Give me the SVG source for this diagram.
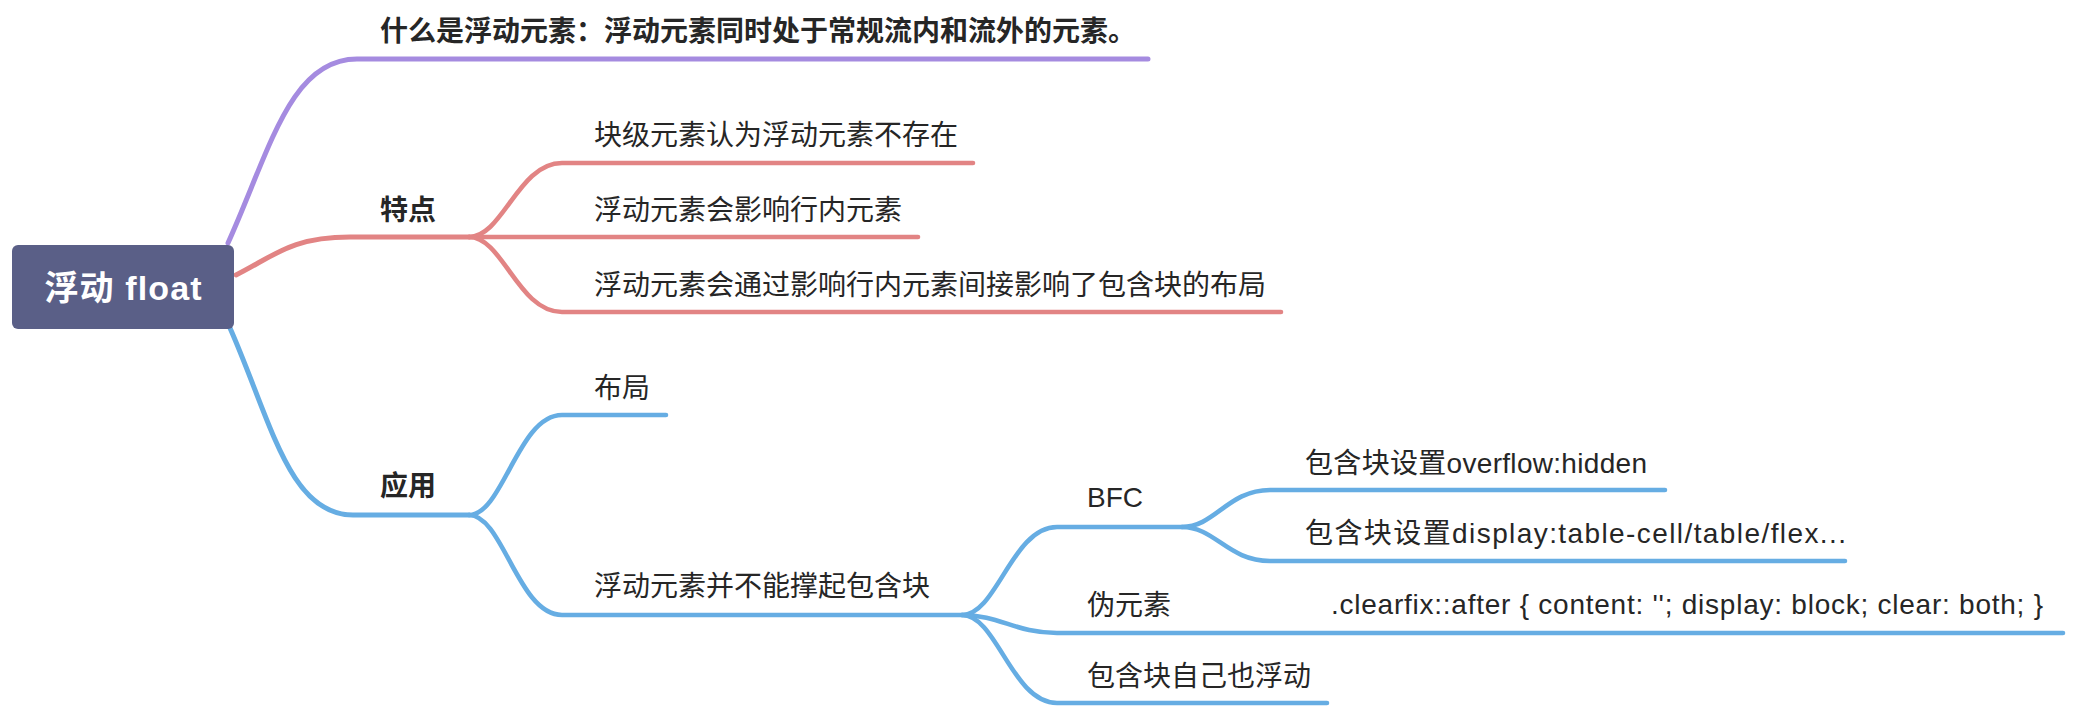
<svg xmlns="http://www.w3.org/2000/svg" width="2074" height="708" viewBox="0 0 2074 708">
<style>
.t{font-family:"Liberation Sans","Noto Sans CJK SC",sans-serif;font-size:28px;fill:#262626}
.b{font-weight:bold}
.root{font-family:"Liberation Sans","Noto Sans CJK SC",sans-serif;font-size:34px;font-weight:bold;fill:#ffffff}
.c{fill:none;stroke-linecap:round;stroke-linejoin:round}
.p{stroke:#a58be0;stroke-width:5}
.r{stroke:#e28484;stroke-width:5}
.r2{stroke:#e28484;stroke-width:4.6}
.u{stroke:#66ade3;stroke-width:5}
.u2{stroke:#66ade3;stroke-width:4.6}
</style>
<rect width="2074" height="708" fill="#ffffff"/>
<g id="connectors">
<path class="c p" d="M228,243 C270,150 290,59 357,59 L1148,59"/>
<path class="c r" d="M236,275 C274,256 291,237 350,237 L469,237"/>
<path class="c r2" d="M469,237 C503,237 518,163 562,163 L973,163"/>
<path class="c r2" d="M469,237 L918,237"/>
<path class="c r2" d="M469,237 C503,237 518,312 562,312 L1281,312"/>
<path class="c u" d="M230,328 C271,421 289,515 353,515 L469,515"/>
<path class="c u2" d="M469,515 C503,515 518,415 562,415 L666,415"/>
<path class="c u2" d="M469,515 C503,515 518,615 562,615 L962,615"/>
<path class="c u2" d="M962,615 C997,615 1012,527 1057,527 L1182,527"/>
<path class="c u2" d="M962,615 C1000,615 1015,633 1057,633 L2063,633"/>
<path class="c u2" d="M962,615 C997,615 1012,703 1057,703 L1327,703"/>
<path class="c u2" d="M1182,527 C1215,527 1228,490 1270,490 L1665,490"/>
<path class="c u2" d="M1182,527 C1215,527 1228,561 1270,561 L1845,561"/>
</g>
<g id="node-root">
<rect x="12" y="245" width="222" height="84" rx="6" fill="#5a5f87"/>
<text class="root" x="123" y="300" text-anchor="middle" textLength="157" lengthAdjust="spacing">浮动 float</text>
</g>
<g id="node-what"><text class="t b" x="380" y="41">什么是浮动元素：浮动元素同时处于常规流内和流外的元素。</text></g>
<g id="node-features"><text class="t b" x="380" y="220">特点</text></g>
<g id="node-f1"><text class="t" x="594" y="145">块级元素认为浮动元素不存在</text></g>
<g id="node-f2"><text class="t" x="594" y="220">浮动元素会影响行内元素</text></g>
<g id="node-f3"><text class="t" x="594" y="295">浮动元素会通过影响行内元素间接影响了包含块的布局</text></g>
<g id="node-apply"><text class="t b" x="380" y="496">应用</text></g>
<g id="node-layout"><text class="t" x="594" y="398">布局</text></g>
<g id="node-collapse"><text class="t" x="594" y="596">浮动元素并不能撑起包含块</text></g>
<g id="node-bfc"><text class="t" x="1087" y="507">BFC</text></g>
<g id="node-overflow"><text class="t" x="1305" y="473" textLength="342" lengthAdjust="spacing">包含块设置overflow:hidden</text></g>
<g id="node-display"><text class="t" x="1305" y="543" textLength="541" lengthAdjust="spacing">包含块设置display:table-cell/table/flex...</text></g>
<g id="node-pseudo">
<text class="t" x="1087" y="615">伪元素</text>
<text class="t" x="1331" y="614" textLength="712" lengthAdjust="spacing">.clearfix::after { content: ''; display: block; clear: both; }</text>
</g>
<g id="node-selffloat"><text class="t" x="1087" y="686">包含块自己也浮动</text></g>
</svg>
